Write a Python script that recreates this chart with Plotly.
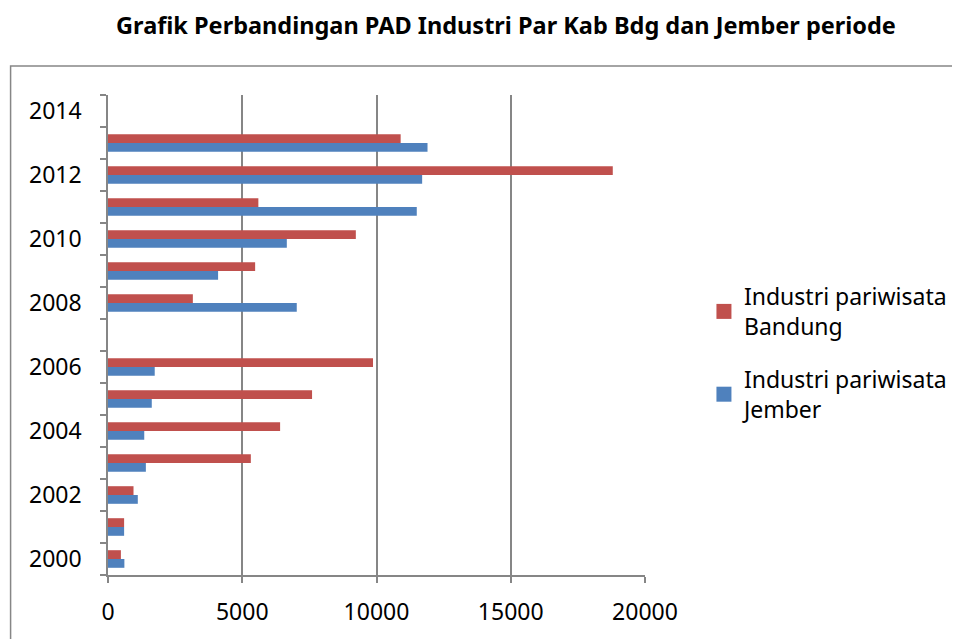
import plotly.graph_objects as go

years = list(range(2000, 2015))
bandung = [480, 600, 950, 5320, 6410, 7600, 9870, None, 3160, 5480, 9230, 5600, 18800, 10900, None]
jember = [610, 600, 1110, 1410, 1350, 1630, 1740, None, 7030, 4100, 6660, 11500, 11700, 11900, None]
ytick_labels = [2000, 2002, 2004, 2006, 2008, 2010, 2012, 2014]
xtick_vals = [0, 5000, 10000, 15000, 20000]

OFF = 8  # page body margin
W, H = 960 - OFF, 639 - OFF
L, R, T, B = 107.5 - OFF, 315, 95 - OFF, 64
pw, ph = W - L - R, H - T - B

font_family = "Noto Sans, Open Sans, sans-serif"
grid_col = "#868686"
red = "#C0504D"
blue = "#4F81BD"

def px2x(px):
    return (px - OFF - L) / pw

def py2y(py):
    return (H - B - (py - OFF)) / ph

fig = go.Figure()
fig.add_trace(go.Bar(
    y=years, x=jember, orientation="h", name="Industri pariwisata<br>Jember",
    marker=dict(color=blue, line=dict(width=0)), showlegend=False,
))
fig.add_trace(go.Bar(
    y=years, x=bandung, orientation="h", name="Industri pariwisata<br>Bandung",
    marker=dict(color=red, line=dict(width=0)), showlegend=False,
))
# legend entries
fig.add_trace(go.Scatter(
    x=[None], y=[None], mode="markers", name="Industri pariwisata<br>Bandung",
    marker=dict(symbol="square", size=15, color=red), legendgroup="a", legendrank=1,
))
fig.add_trace(go.Scatter(
    x=[None], y=[None], mode="markers", name="Industri pariwisata<br>Jember",
    marker=dict(symbol="square", size=15, color=blue), legendgroup="b", legendrank=2,
))

fig.add_shape(type="rect", xref="paper", yref="paper",
              x0=px2x(10), x1=px2x(975), y0=py2y(655), y1=py2y(66),
              line=dict(color=grid_col, width=1.5), fillcolor="rgba(0,0,0,0)", layer="below")

fig.update_layout(
    width=W, height=H,
    margin=dict(l=L, r=R, t=T, b=B, pad=0, autoexpand=False),
    paper_bgcolor="white", plot_bgcolor="white",
    barmode="group", bargap=0.45, bargroupgap=0,
    font=dict(family=font_family, size=23, color="#000000"),
    title=dict(text="<b>Grafik Perbandingan PAD Industri Par Kab Bdg dan Jember periode</b>",
               x=(506 - OFF) / W, xanchor="center", y=1 - (26 - OFF) / H, yanchor="middle",
               font=dict(family=font_family, size=23.5, color="#000000")),
    legend=dict(x=px2x(704), xanchor="left", y=py2y(353), yanchor="middle",
                traceorder="grouped", tracegroupgap=20, itemsizing="trace",
                font=dict(size=23), bgcolor="rgba(0,0,0,0)", itemwidth=30),
    showlegend=True,
)

fig.update_xaxes(
    range=[0, 20000], tickvals=xtick_vals, ticktext=[str(v) for v in xtick_vals],
    showgrid=True, gridcolor=grid_col, gridwidth=1.5,
    showline=True, linecolor=grid_col, linewidth=1.5,
    ticks="outside", ticklen=6, tickcolor=grid_col, tickwidth=1.5,
    zeroline=False, ticklabelstandoff=10,
)
fig.update_yaxes(
    range=[1999.5, 2014.5], tickvals=ytick_labels, ticktext=[str(v) for v in ytick_labels],
    showgrid=False, showline=True, linecolor=grid_col, linewidth=1.5,
    ticks="", zeroline=False, ticklabelstandoff=20,
    minor=dict(tickvals=[y - 0.5 for y in years] + [2014.5], ticks="outside", ticklen=6,
               tickcolor=grid_col, tickwidth=1.5, showgrid=False),
)

fig.write_html("out.html")
